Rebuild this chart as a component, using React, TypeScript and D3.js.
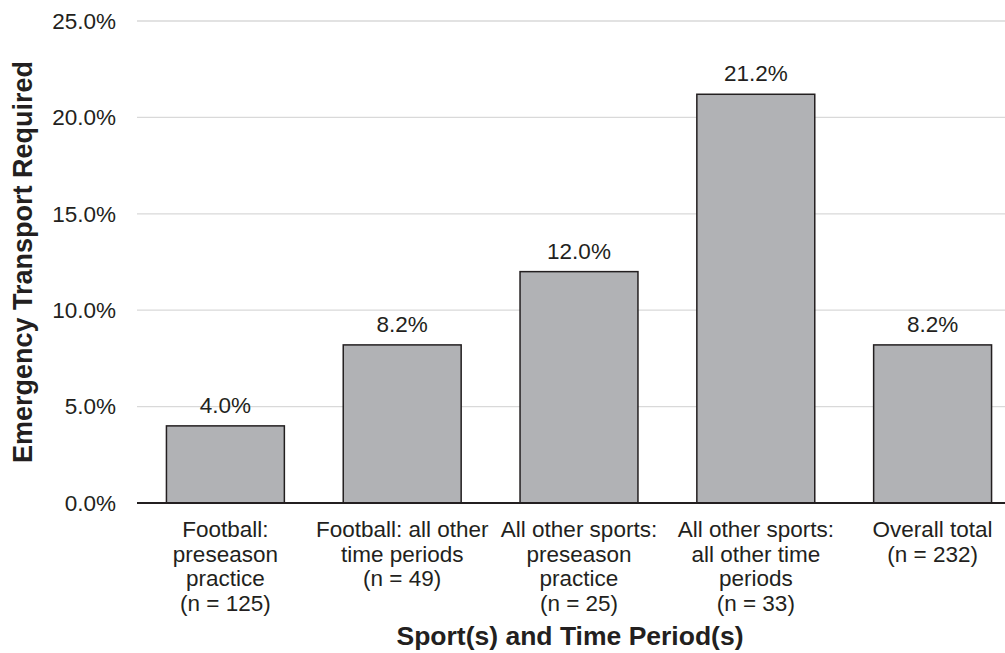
import React from "react";
import * as d3 from "d3";

const categories: string[][] = [
  ["Football:", "preseason", "practice", "(n = 125)"],
  ["Football: all other", "time periods", "(n = 49)"],
  ["All other sports:", "preseason", "practice", "(n = 25)"],
  ["All other sports:", "all other time", "periods", "(n = 33)"],
  ["Overall total", "(n = 232)"],
];
const values: number[] = [4.0, 8.2, 12.0, 21.2, 8.2];
const yTicks: number[] = [0, 5, 10, 15, 20, 25];
const yTitle = "Emergency Transport Required";
const xTitle = "Sport(s) and Time Period(s)";

const W = 1005;
const H = 653;
const left = 137;
const bandEnd = 1021;
const top = 21;
const bottom = 503;
const textColor = "#231f20";
const font = "'Liberation Sans', Arial, sans-serif";

export default function App() {
  const x = d3
    .scaleBand<number>()
    .domain(values.map((_, i) => i))
    .range([left, bandEnd])
    .paddingInner(0.333)
    .paddingOuter(0.1665);
  const y = d3.scaleLinear().domain([0, 25]).range([bottom, top]);
  const fmt = (v: number) => v.toFixed(1) + "%";

  return (
    <svg
      width={W}
      height={H}
      style={{ position: "absolute", left: 0, top: 0, background: "#fff" }}
      fontFamily={font}
    >
      {yTicks.map((t) => (
        <g key={t}>
          {t > 0 && (
            <line x1={left} x2={W} y1={y(t)} y2={y(t)} stroke="#d9d9d9" strokeWidth={1.3} />
          )}
          <text
            x={116}
            y={y(t)}
            dy="0.35em"
            textAnchor="end"
            fontSize={22.5}
            fill={textColor}
          >
            {fmt(t)}
          </text>
        </g>
      ))}
      {values.map((v, i) => (
        <g key={i}>
          <rect
            x={x(i)!}
            y={y(v)}
            width={x.bandwidth()}
            height={y(0) - y(v)}
            fill="#b1b2b5"
            stroke={textColor}
            strokeWidth={1.5}
          />
          <text
            x={x(i)! + x.bandwidth() / 2}
            y={y(v) - 13}
            textAnchor="middle"
            fontSize={22.5}
            fill={textColor}
          >
            {fmt(v)}
          </text>
          <text
            x={x(i)! + x.bandwidth() / 2}
            y={537}
            textAnchor="middle"
            fontSize={22.5}
            fill={textColor}
          >
            {categories[i].map((line, j) => (
              <tspan key={j} x={x(i)! + x.bandwidth() / 2} dy={j === 0 ? 0 : 24.7}>
                {line}
              </tspan>
            ))}
          </text>
        </g>
      ))}
      <line x1={left} x2={W} y1={bottom} y2={bottom} stroke={textColor} strokeWidth={2} />
      <text
        x={570}
        y={645}
        textAnchor="middle"
        fontSize={26.5}
        fontWeight="bold"
        fill={textColor}
      >
        {xTitle}
      </text>
      <text
        transform={`translate(32, ${(top + bottom) / 2}) rotate(-90)`}
        textAnchor="middle"
        fontSize={27}
        fontWeight="bold"
        fill={textColor}
      >
        {yTitle}
      </text>
    </svg>
  );
}
